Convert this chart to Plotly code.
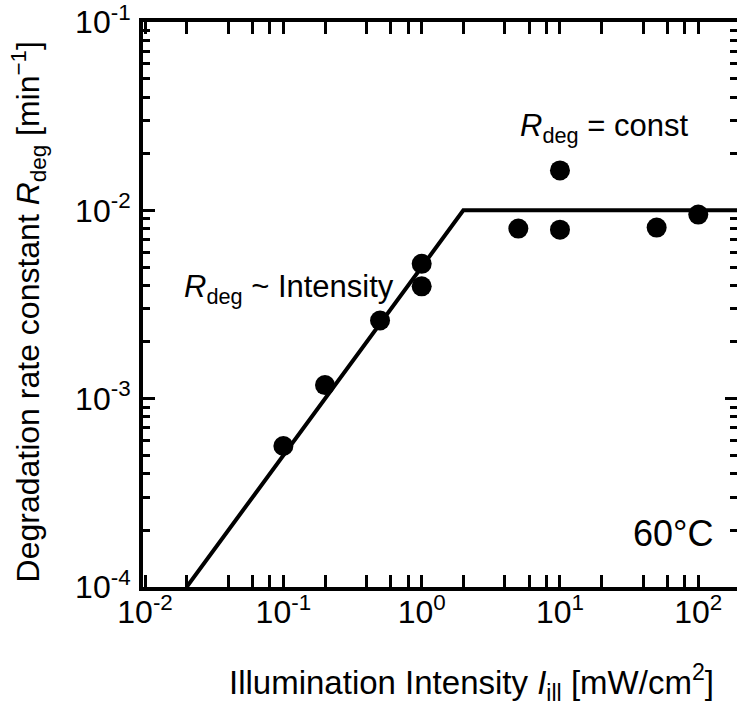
import plotly.graph_objects as go

# measured data
intensity = [0.1, 0.2, 0.5, 1, 1, 5, 10, 10, 50, 100]
rate = [5.6e-4, 1.18e-3, 2.6e-3, 5.2e-3, 3.95e-3, 8.0e-3, 1.63e-2, 7.9e-3, 8.1e-3, 9.5e-3]

# fitted guide line
fit_x = [0.02, 2, 300]
fit_y = [1e-4, 1e-2, 1e-2]

x_ticks = [0.01, 0.1, 1, 10, 100]
x_ticktext = ["10<sup>-2</sup>", "10<sup>-1</sup>", "10<sup>0</sup>", "10<sup>1</sup>", "10<sup>2</sup>"]
y_ticks = [1e-4, 1e-3, 1e-2, 1e-1]
y_ticktext = ["10<sup>-4</sup>", "10<sup>-3</sup>", "10<sup>-2</sup>", "10<sup>-1</sup>"]

x_minor = [m * d for d in [0.01, 0.1, 1, 10, 100] for m in (2, 4, 6, 8)]
y_minor = [m * d for d in [1e-4, 1e-3, 1e-2] for m in range(2, 10)]

FONT = "Liberation Sans, Arial, sans-serif"
W, H = 737, 706
L, R, T, B = 143, 0, 17, 119

fig = go.Figure()
fig.add_trace(go.Scatter(x=fit_x, y=fit_y, mode="lines",
                         line=dict(color="black", width=4), hoverinfo="skip", showlegend=False))
fig.add_trace(go.Scatter(x=intensity, y=rate, mode="markers",
                         marker=dict(color="black", size=20, line=dict(width=0)), showlegend=False))
# dummy trace for right-side tick axis
fig.add_trace(go.Scatter(x=[1], y=[1e-3], yaxis="y2", mode="markers",
                         marker=dict(opacity=0), hoverinfo="skip", showlegend=False))

tickfont = dict(family=FONT, size=32, color="black")
yr = [-4.0005, -0.9995]
fig.update_layout(
    width=W, height=H,
    margin=dict(l=L, r=R, t=T, b=B),
    paper_bgcolor="white", plot_bgcolor="white",
    showlegend=False,
    xaxis=dict(type="log", range=[-2.015, 2.28], showgrid=False, zeroline=False,
               showline=True, linecolor="black", linewidth=4, mirror="allticks",
               ticks="inside", ticklen=12, tickwidth=3, tickcolor="black",
               tickmode="array", tickvals=x_ticks, ticktext=x_ticktext,
               tickfont=tickfont, ticklabelstandoff=-6, ticklabeloverflow="allow",
               minor=dict(tickmode="array", tickvals=x_minor, ticks="inside",
                          ticklen=7, tickwidth=3, tickcolor="black", showgrid=False)),
    yaxis=dict(type="log", range=yr, showgrid=False, zeroline=False,
               showline=True, linecolor="black", linewidth=4, mirror=False,
               ticks="inside", ticklen=12, tickwidth=3, tickcolor="black",
               tickmode="array", tickvals=y_ticks, ticktext=y_ticktext,
               tickfont=tickfont, ticklabelstandoff=2, ticklabeloverflow="allow",
               minor=dict(tickmode="array", tickvals=y_minor, ticks="inside",
                          ticklen=7, tickwidth=3, tickcolor="black", showgrid=False)),
    yaxis2=dict(type="log", range=yr, overlaying="y", side="right", anchor="x",
                showgrid=False, zeroline=False, showline=False, showticklabels=False,
                ticks="inside", ticklen=12, tickwidth=3, tickcolor="black",
                tickmode="array", tickvals=y_ticks,
                minor=dict(tickmode="array", tickvals=y_minor, ticks="inside",
                           ticklen=7, tickwidth=3, tickcolor="black", showgrid=False)),
)

pw, ph = W - L - R, H - T - B
def px(x):
    return (x - L) / pw
def py(y):
    return (H - B - y) / ph

fig.add_annotation(text="<i>R</i><sub>deg</sub> ~ Intensity", xref="paper", yref="paper",
                   x=px(182), y=py(286), xanchor="left", yanchor="middle",
                   showarrow=False, font=dict(family=FONT, size=31, color="black"))
fig.add_annotation(text="<i>R</i><sub>deg</sub> = const", xref="paper", yref="paper",
                   x=px(518), y=py(124), xanchor="left", yanchor="middle",
                   showarrow=False, font=dict(family=FONT, size=31, color="black"))
fig.add_annotation(text="60°C", xref="paper", yref="paper",
                   x=px(631), y=py(533), xanchor="left", yanchor="middle",
                   showarrow=False, font=dict(family=FONT, size=36, color="black"))
# axis titles
fig.add_annotation(text="Illumination Intensity <i>I</i><sub>ill</sub> [mW/cm<sup>2</sup>]",
                   xref="paper", yref="paper", x=px(471), y=py(683),
                   xanchor="center", yanchor="middle", showarrow=False,
                   font=dict(family=FONT, size=33, color="black"))
fig.add_annotation(text="Degradation rate constant <i>R</i><sub>deg</sub> [min<sup>−1</sup>]",
                   xref="paper", yref="paper", x=px(28), y=py(310), textangle=-90,
                   xanchor="center", yanchor="middle", showarrow=False,
                   font=dict(family=FONT, size=32, color="black"))

fig.write_html("out.html")
